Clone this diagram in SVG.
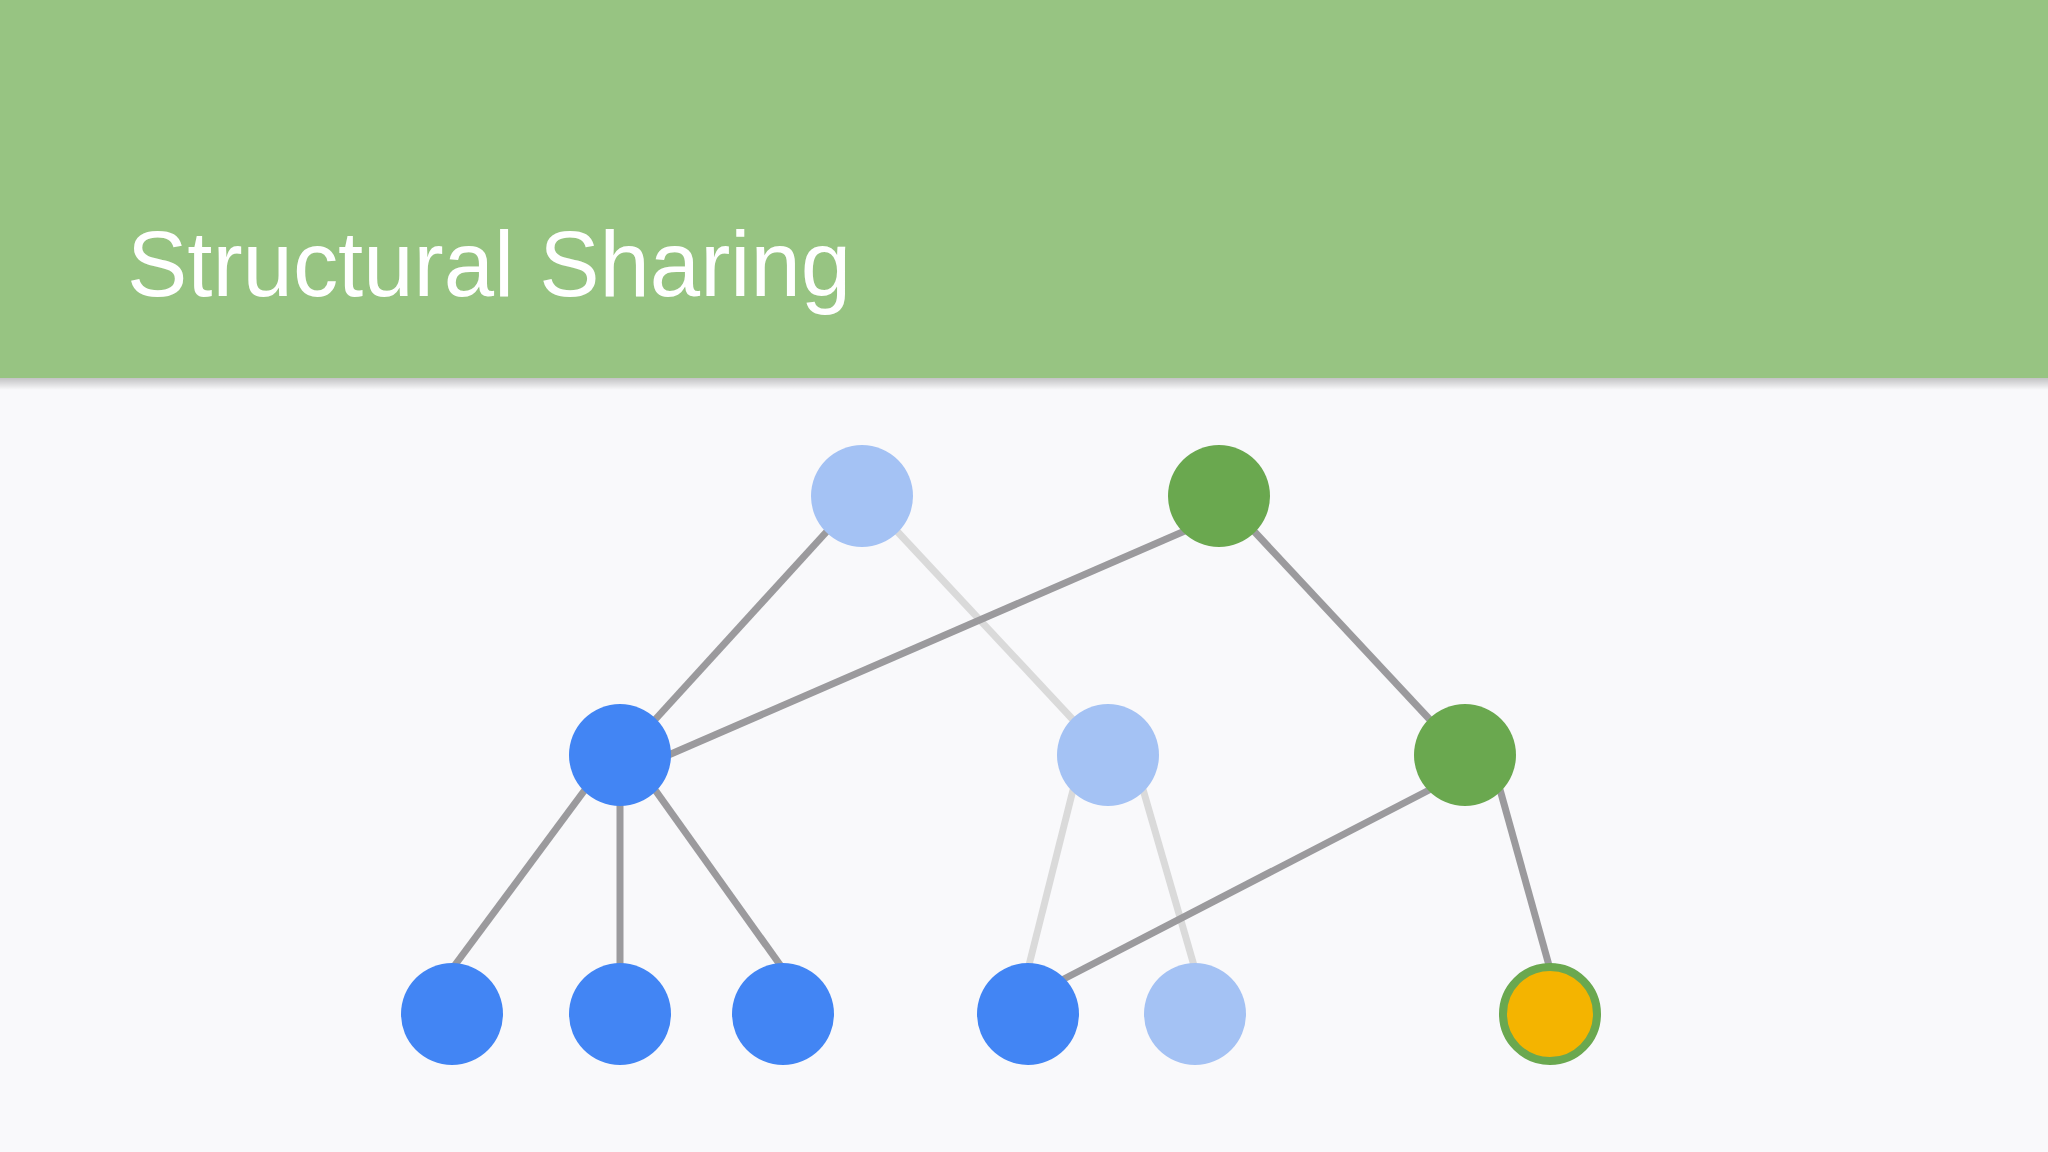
<svg xmlns="http://www.w3.org/2000/svg" width="2048" height="1152" viewBox="0 0 2048 1152">
  <defs>
    <linearGradient id="shadow" x1="0" y1="0" x2="0" y2="1">
      <stop offset="0" stop-color="#000" stop-opacity="0.22"/>
      <stop offset="1" stop-color="#000" stop-opacity="0"/>
    </linearGradient>
    <style>
      .title { font-family: "Liberation Sans", Arial, sans-serif; font-size: 92px; fill: #ffffff; }
      .edge { stroke: #9b9a9d; stroke-width: 7; fill: none; }
      .edge.ghost { stroke: #dadada; }
      .node { stroke: none; }
      .blue { fill: #4285f4; }
      .lightblue { fill: #a4c2f4; }
      .green { fill: #6aa84f; }
      .yellow { fill: #f4b400; stroke: #6aa84f; stroke-width: 8; }
    </style>
  </defs>

  <rect x="0" y="0" width="2048" height="1152" fill="#f9f9fb"/>
  <rect x="0" y="378" width="2048" height="12" fill="url(#shadow)"/>
  <rect x="0" y="0" width="2048" height="378" fill="#97c482"/>
  <text class="title" x="127" y="296" textLength="724" lengthAdjust="spacingAndGlyphs">Structural Sharing</text>

  <g id="connectors">
    <line class="edge ghost" x1="894" y1="528" x2="1076" y2="723"/>
    <line class="edge ghost" x1="1074" y1="786" x2="1028" y2="969"/>
    <line class="edge ghost" x1="1142" y1="786" x2="1195" y2="969"/>
    <line class="edge" x1="830" y1="528" x2="652" y2="723"/>
    <line class="edge" x1="1187" y1="530" x2="664" y2="757"/>
    <line class="edge" x1="1251" y1="528" x2="1433" y2="723"/>
    <line class="edge" x1="587" y1="787" x2="452" y2="969"/>
    <line class="edge" x1="620" y1="800" x2="620" y2="969"/>
    <line class="edge" x1="653" y1="787" x2="783" y2="969"/>
    <line class="edge" x1="1433" y1="788" x2="1058" y2="982"/>
    <line class="edge" x1="1499" y1="786" x2="1550" y2="969"/>
  </g>

  <g id="node-root-old"><circle class="node lightblue" cx="862" cy="496" r="51"/></g>
  <g id="node-root-new"><circle class="node green" cx="1219" cy="496" r="51"/></g>
  <g id="node-mid-left"><circle class="node blue" cx="620" cy="755" r="51"/></g>
  <g id="node-mid-old"><circle class="node lightblue" cx="1108" cy="755" r="51"/></g>
  <g id="node-mid-new"><circle class="node green" cx="1465" cy="755" r="51"/></g>
  <g id="node-leaf-1"><circle class="node blue" cx="452" cy="1014" r="51"/></g>
  <g id="node-leaf-2"><circle class="node blue" cx="620" cy="1014" r="51"/></g>
  <g id="node-leaf-3"><circle class="node blue" cx="783" cy="1014" r="51"/></g>
  <g id="node-leaf-4"><circle class="node blue" cx="1028" cy="1014" r="51"/></g>
  <g id="node-leaf-5"><circle class="node lightblue" cx="1195" cy="1014" r="51"/></g>
  <g id="node-leaf-6"><circle class="yellow" cx="1550" cy="1014" r="47"/></g>
</svg>
